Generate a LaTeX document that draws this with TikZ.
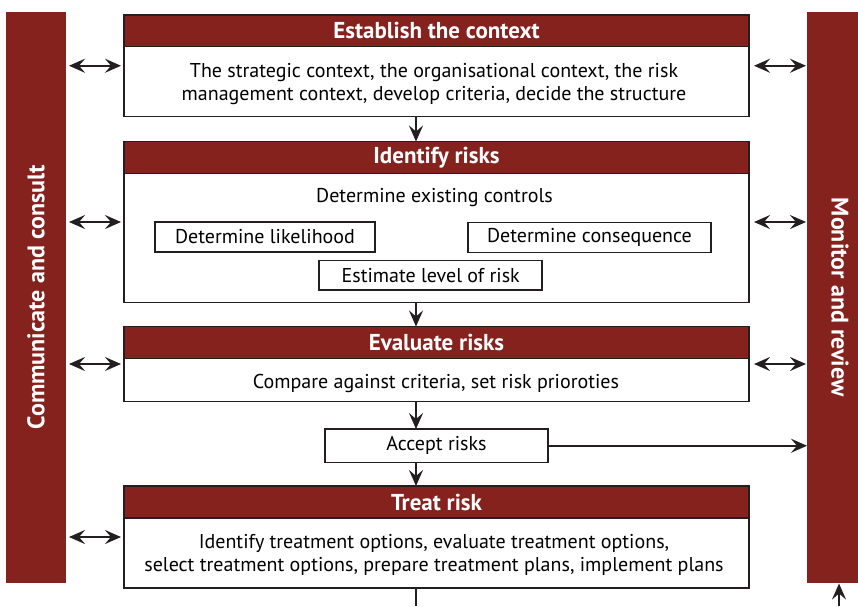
\documentclass[tikz,border=0pt]{standalone}
\usepackage{fontspec}
\setmainfont{PT Sans}
\usetikzlibrary{arrows.meta}
\definecolor{riskred}{RGB}{133,34,30}
\definecolor{ink}{RGB}{35,31,32}
\newcommand{\bodyfont}{\fontsize{20}{23.3}\selectfont}
\newcommand{\headfont}{\fontsize{23}{26}\selectfont\bfseries}
\newcommand{\barfont}{\fontsize{24}{26}\selectfont\bfseries}

\tikzset{
  bar/.style={fill=riskred, minimum width=570.5pt, inner sep=0pt, outer sep=0pt, text=white, font=\barfont},
  head/.style={fill=riskred, draw=ink, line width=1.5pt, minimum width=625pt, minimum height=32pt, inner sep=0pt, outer sep=0pt, text=white, font=\headfont},
  box/.style={draw=ink, line width=1.5pt, minimum width=625pt, inner sep=0pt, outer sep=0pt},
  subbox/.style={draw=ink, line width=1.5pt, minimum height=30pt, inner sep=0pt, outer sep=0pt, font=\bodyfont},
  body/.style={align=center, inner sep=0pt, font=\bodyfont},
  link/.style={draw=ink, line width=2pt, -{Stealth[length=16pt, width=14pt, inset=6pt]}},
  twoway/.style={draw=ink, line width=2pt, {Stealth[length=16pt, width=14pt, inset=6pt]}-{Stealth[length=16pt, width=14pt, inset=6pt]}}
}

\begin{document}
\begin{tikzpicture}[x=1pt, y=-1pt]
\useasboundingbox (0,0) rectangle (858,606);

% side bars
\node[bar, minimum height=60pt, rotate=90] (cc) at (36,297.25) {Communicate and consult};
\node[bar, minimum height=66pt, rotate=-90] (mr) at (840,297.25) {Monitor and review};

% establish the context
\node[head] (ctxhead) at (436.5,30.7) {Establish the context};
\node[box, minimum height=101.5pt] (ctx) at (436.5,65.75) {};
\node[body] (ctxtxt) at (434,84) {The strategic context, the organisational context, the risk\\management context, develop criteria, decide the structure};

% identify risks
\node[head] (idhead) at (436.5,157.5) {Identify risks};
\node[box, minimum height=161pt] (id) at (436.5,222) {};
\node[body] (idtxt) at (434.5,198) {Determine existing controls};
\node[subbox, minimum width=220pt] (likely) at (265,237) {Determine likelihood};
\node[subbox, minimum width=243pt] (conseq) at (589.5,237.5) {Determine consequence};
\node[subbox, minimum width=223pt, minimum height=29.5pt] (level) at (430.7,275.4) {Estimate level of risk};

% evaluate risks
\node[head] (evalhead) at (436.5,342.5) {Evaluate risks};
\node[box, minimum height=75pt] (eval) at (436.5,364) {};
\node[body] (evaltxt) at (436,383) {Compare against criteria, set risk prioroties};

\node[subbox, minimum width=223pt, minimum height=33.5pt] (accept) at (436.5,445.75) {Accept risks};

% treat risk
\node[head] (treathead) at (436.5,502) {Treat risk};
\node[box, minimum height=102pt] (treat) at (436.5,537) {};
\node[body] (treattxt) at (434,555) {Identify treatment options, evaluate treatment options,\\select treatment options, prepare treatment plans, implement plans};

\coordinate (spine) at (416,0);
\coordinate (tailout) at (416,606);
\coordinate (tailin) at (839,606);

% flow
\draw[link] (ctx.south -| spine) -- (id.north -| spine);
\draw[link] (id.south -| spine) -- (eval.north -| spine);
\draw[link] (eval.south -| spine) -- (accept.north -| spine);
\draw[link] (accept.south -| spine) -- (treat.north -| spine);
\draw[draw=ink, line width=2pt] (treat.south -| spine) -- (tailout);
\draw[link] (accept.east) -- (accept.east -| mr.south);
\draw[link, shorten >=1pt] (tailin) -- (mr.east -| tailin);

% to the side bars
\foreach \b in {ctx, id, eval, treat}{
  \draw[twoway, shorten <=3pt, shorten >=3pt] (cc.south |- \b.west) -- (\b.west);
}
\foreach \b in {ctx, id, eval}{
  \draw[twoway, shorten <=5pt, shorten >=1pt] (\b.east) -- (\b.east -| mr.south);
}
\end{tikzpicture}
\end{document}
